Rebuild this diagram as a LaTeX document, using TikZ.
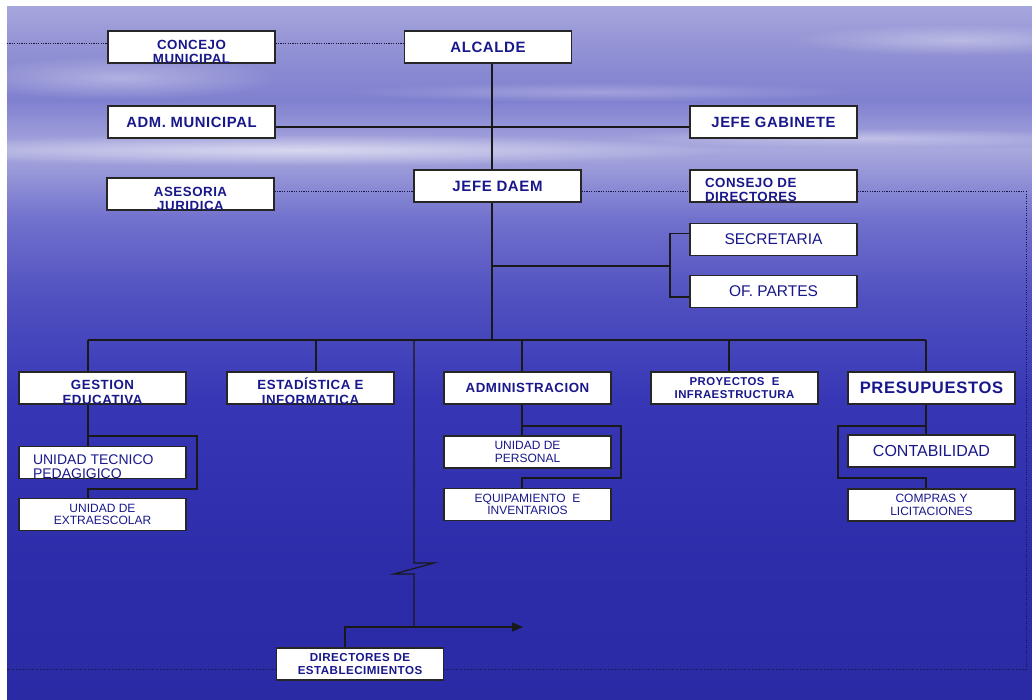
\documentclass[tikz,border=0pt]{standalone}
\usepackage{fontspec}
\setmainfont{Liberation Sans}[BoldFeatures={LetterSpace=4}]
\usetikzlibrary{arrows.meta,fadings}

\definecolor{navytext}{RGB}{24,24,140}
\definecolor{dotline}{RGB}{22,22,70}
\pgfdeclareverticalshading{sea}{100bp}{%
  rgb(0bp)=(.165,.165,.647); rgb(25bp)=(.165,.165,.647);
  rgb(35bp)=(.176,.176,.667); rgb(46.6bp)=(.216,.216,.714);
  rgb(54bp)=(.314,.314,.753); rgb(59.6bp)=(.44,.44,.804);
  rgb(64.7bp)=(.66,.66,.87); rgb(68.3bp)=(.50,.50,.816);
  rgb(72bp)=(.57,.57,.831); rgb(75bp)=(.65,.65,.871);
  rgb(100bp)=(.65,.65,.871)}
\tikzfading[name=fade out, inner color=transparent!0, outer color=transparent!100]

\newcommand{\toplines}[2]{\begin{tabular}[t]{@{}c@{}}#1\\#2\end{tabular}}
\newcommand{\toplinesl}[2]{\begin{tabular}[t]{@{}l@{}}#1\\#2\end{tabular}}

\tikzset{
  box/.style={draw=black!85, line width=1.3pt, fill=white, text=navytext,
    minimum width=167pt, minimum height=32pt, inner sep=0pt},
  spill/.style={text height=#1, text depth=0pt},
  link/.style={draw=black!90, line width=1.2pt},
  dots/.style={draw=dotline, line width=0.9pt, dash pattern=on 1.1pt off 1.3pt},
  streak/.style={fill=white, path fading=fade out}
}

\begin{document}
\begin{tikzpicture}[x=1pt,y=-1pt]
  \useasboundingbox (0,0) rectangle (1032,700);
  % background:
  \fill[white] (0,0) rectangle (1032,700);
  \shade[shading=sea] (7,7) rectangle (1032,700);
  \fill[streak,opacity=.55] (300,150) ellipse (430 and 16);
  \fill[streak,opacity=.35] (860,138) ellipse (250 and 10);
  \fill[streak,opacity=.35] (120,78) ellipse (160 and 22);
  \fill[streak,opacity=.35] (960,40) ellipse (170 and 16);
  \fill[streak,opacity=.25] (600,92) ellipse (260 and 10);

  % top boxes:
  \node[box,spill=6pt,font=\bfseries\fontsize{13.3}{13.3}\selectfont] (concejo) at (191.5,47) {\toplines{CONCEJO}{MUNICIPAL}};
  \node[box,font=\bfseries\fontsize{15}{18}\selectfont] (alcalde) at (488,47) {ALCALDE};
  \node[box,font=\bfseries\fontsize{14.8}{18}\selectfont] (admmun) at (191.5,122) {ADM. MUNICIPAL};
  \node[box,font=\bfseries\fontsize{14.8}{18}\selectfont] (gabinete) at (773.5,122) {JEFE GABINETE};
  \node[box,spill=6pt,font=\bfseries\fontsize{13.3}{14}\selectfont] (asesoria) at (190.5,194) {\toplines{ASESORIA}{JURIDICA}};
  \node[box,font=\bfseries\fontsize{15}{18}\selectfont] (daem) at (497.5,186) {JEFE DAEM};
  \node[box,spill=4pt,font=\bfseries\fontsize{13.3}{13.5}\selectfont] (consejo) at (773.5,186) {\makebox[137pt][l]{\toplinesl{CONSEJO DE}{DIRECTORES}}};
  \node[box,font=\fontsize{15.5}{18}\selectfont] (secret) at (773.5,239.5) {SECRETARIA};
  \node[box,font=\fontsize{15.5}{18}\selectfont] (partes) at (773.5,291.5) {OF. PARTES};

  % departments:
  \node[box,spill=2pt,font=\bfseries\fontsize{13.3}{15}\selectfont] (gestion) at (102.5,388) {\toplines{GESTION}{EDUCATIVA}};
  \node[box,spill=2pt,font=\bfseries\fontsize{13.3}{15}\selectfont] (estad) at (310.5,388) {\toplines{ESTADÍSTICA E}{INFORMATICA}};
  \node[box,font=\bfseries\fontsize{13.3}{16}\selectfont] (admin) at (527.5,388) {ADMINISTRACION};
  \node[box,align=center,font=\bfseries\fontsize{11.4}{13.3}\selectfont] (proy) at (734.5,388) {PROYECTOS\ \ E\\INFRAESTRUCTURA};
  \node[box,font=\bfseries\fontsize{16.6}{19}\selectfont] (presup) at (931.5,388) {PRESUPUESTOS};

  % units:
  \node[box,spill=4pt,font=\fontsize{14}{14.3}\selectfont] (utp) at (102.5,462.5) {\makebox[139pt][l]{\toplinesl{UNIDAD TECNICO}{PEDAGIGICO}}};
  \node[box,align=center,font=\fontsize{12}{12.2}\selectfont] (extra) at (102.5,514.5) {UNIDAD DE\\EXTRAESCOLAR};
  \node[box,align=center,font=\fontsize{12}{12.5}\selectfont] (personal) at (527.5,452) {UNIDAD DE\\PERSONAL};
  \node[box,align=center,font=\fontsize{12}{12.5}\selectfont] (equip) at (527.5,504.5) {EQUIPAMIENTO\ \ E\\INVENTARIOS};
  \node[box,font=\fontsize{16}{18}\selectfont] (conta) at (931.5,451) {CONTABILIDAD};
  \node[box,align=center,font=\fontsize{12}{12.5}\selectfont] (compras) at (931.5,505) {COMPRAS Y\\LICITACIONES};
  \node[box,align=center,font=\bfseries\fontsize{11.6}{13}\selectfont] (directores) at (360,664) {DIRECTORES DE\\ESTABLECIMIENTOS};

  % main line and bus:
  \coordinate (hub) at (492,340);
  \coordinate (busW) at (88,340);
  \coordinate (busE) at (926,340);
  \draw[link] (alcalde.south -| hub) -- (daem.north -| hub);
  \draw[link] ([yshift=-5pt]admmun.east) -- ([yshift=-5pt]gabinete.west);
  \draw[link] (daem.south -| hub) -- (hub);
  \draw[link] (busW) -- (busE);
  \foreach \n/\x in {gestion/88, estad/316, admin/522, proy/729, presup/926}
    \draw[link] (\x,340) -- (\n.north -| \x,340);

  % secretaria and partes:
  \coordinate (sb) at (670,266);
  \draw[link] (sb -| hub) -- (sb);
  \draw[link] ([yshift=6pt]secret.west) -| (sb) |- ([yshift=-5.5pt]partes.west);

  % units under departments:
  \draw[link] (gestion.south -| 88,0) -- (utp.north -| 88,0);
  \draw[link] (88,436) -| (197,489) -| (extra.north -| 88,0);
  \draw[link] (admin.south -| 522,0) -- (personal.north -| 522,0);
  \draw[link] (522,426) -| (621,478) -| (equip.north -| 522,0);
  \draw[link] (presup.south -| 926,0) -- (conta.north -| 926,0);
  \draw[link] (926,426) -| (838,478) -| (compras.north -| 926,0);

  % line to directores, with break:
  \draw[link] (414,340) -- (414,563) -- ++(20,0) -- ++(-40,11) -- ++(20,0) -- (414,627);
  \draw[link,-{Triangle[length=11pt,width=9pt]}] (directores.north -| 345,0) |- (523,627);

  % dotted lines:
  \draw[dots] (7,43) -- (concejo.west |- 0,43);
  \draw[dots] (concejo.east |- 0,43) -- (alcalde.west |- 0,43);
  \draw[dots] (asesoria.east |- 0,191.5) -- (daem.west |- 0,191.5);
  \draw[dots] (daem.east |- 0,191.5) -- (consejo.west |- 0,191.5);
  \draw[dots] (consejo.east |- 0,191.5) -| (1026,669) -- (directores.east |- 0,669);
  \draw[dots] (directores.west |- 0,669) -- (7,669);
\end{tikzpicture}
\end{document}
